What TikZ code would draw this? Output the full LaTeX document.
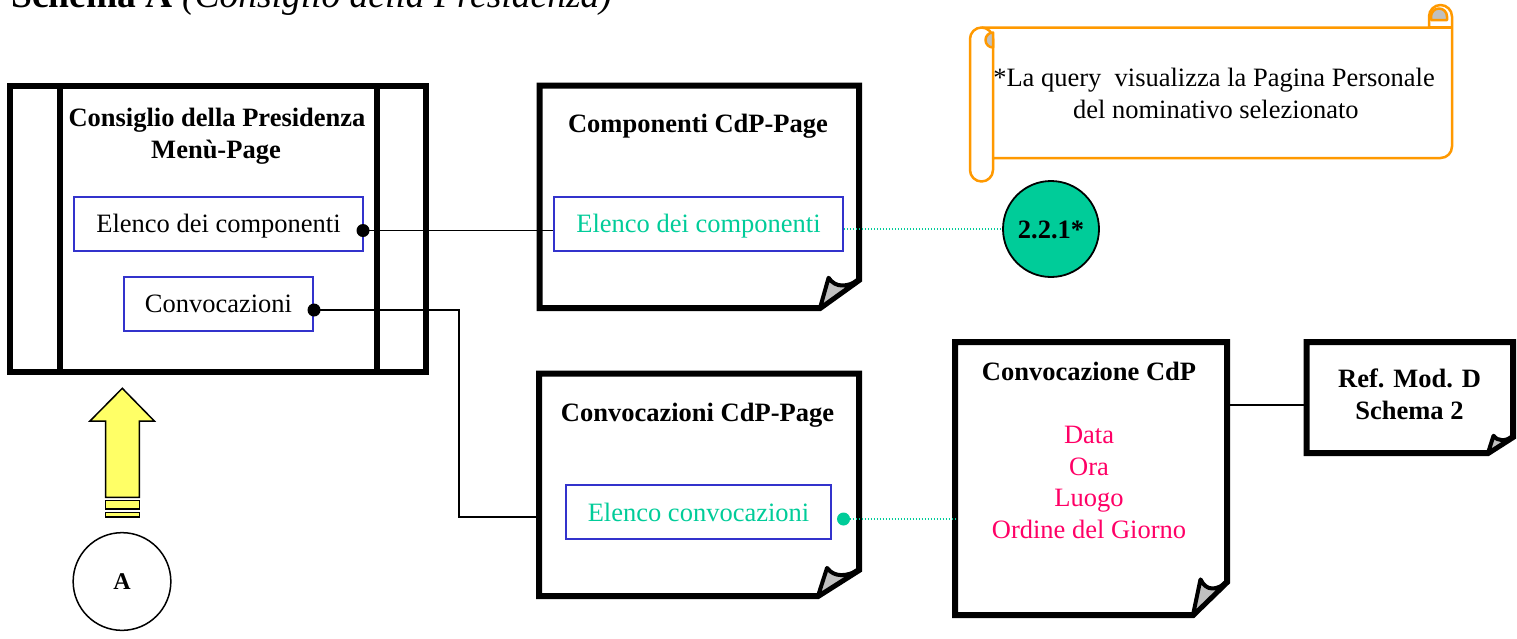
\documentclass[tikz,border=0pt]{standalone}
\usepackage{fontspec}
\setmainfont{Liberation Serif}
\usetikzlibrary{calc}
\definecolor{boxblue}{RGB}{51,51,204}
\definecolor{tealg}{RGB}{0,204,153}
\definecolor{pinkc}{RGB}{255,0,102}
\definecolor{scrollo}{RGB}{255,153,0}
\definecolor{foldgray}{RGB}{192,192,192}
\definecolor{arrowy}{RGB}{255,255,102}
\newcommand\foldpage[3]{%
  \draw[pageline] (#1.north west) -- (#1.north east) -- ([yshift=#3pt]#1.south east) -- ([xshift=-#2pt]#1.south east) -- (#1.south west) -- cycle;
  \filldraw[foldline] ([xshift=-#2pt]#1.south east) -- ([xshift={-0.78*#2pt}, yshift={1.08*#3pt}]#1.south east) .. controls ([xshift={-0.6*#2pt}, yshift={0.7*#3pt}]#1.south east) and ([xshift={-0.3*#2pt}, yshift={0.75*#3pt}]#1.south east) .. ([yshift=#3pt]#1.south east) -- cycle;
}
\begin{document}
\begin{tikzpicture}[x=1pt,y=-1pt,
  txt/.style={inner sep=0pt, anchor=base, font=\fontsize{26.5}{31.5}\selectfont},
  btxt/.style={inner sep=0pt, anchor=base, font=\fontsize{26.5}{31.5}\selectfont\bfseries},
  bluebox/.style={draw=boxblue, line width=1.8pt, inner sep=0pt, minimum height=54.3pt, text height=18pt, text depth=0pt, font=\fontsize{26.5}{31.5}\selectfont},
  pagenode/.style={inner sep=0pt, outer sep=0pt},
  pageline/.style={line width=6pt, line join=miter, fill=white},
  foldline/.style={line width=4pt, line join=round, fill=foldgray, draw=black},
  conn/.style={line width=1.8pt},
  dotg/.style={draw=tealg, line width=1.5pt, dash pattern=on 1.5pt off 1.5pt},
  jdot/.style={circle, fill=black, inner sep=0pt, minimum size=13pt},
  scrl/.style={draw=scrollo, line width=2.5pt, line join=round},
]
\useasboundingbox (0,0) rectangle (1517,638);

% title
\node[inner sep=0pt, anchor=base west, font=\fontsize{37.5}{40}\selectfont] (title) at (11,7) {\textbf{Schema A} \textit{(Consiglio della Presidenza)}};

% Consiglio della Presidenza menu page
\node[pagenode, minimum width=416pt, minimum height=286.5pt] (cons) at (218,228.75) {};
\draw[line width=6pt] (cons.north west) rectangle (cons.south east);
\draw[line width=6pt] ([xshift=50pt]cons.north west) -- ([xshift=50pt]cons.south west);
\draw[line width=6pt] ([xshift=-49.5pt]cons.north east) -- ([xshift=-49.5pt]cons.south east);
\node[btxt] (cons1) at (217,126.7) {Consiglio della Presidenza};
\node[btxt] (cons2) at (216,158) {Menù-Page};

% page boxes
\node[pagenode, minimum width=319.5pt, minimum height=222.5pt] (comp) at (699.25,196.75) {};
\foldpage{comp}{39}{28}
\node[btxt] (comp1) at (698,132.7) {Componenti CdP-Page};

\node[pagenode, minimum width=320pt, minimum height=222.3pt] (convp) at (699,484.85) {};
\foldpage{convp}{41}{26}
\node[btxt] (convp1) at (697.5,421.7) {Convocazioni CdP-Page};

\node[pagenode, minimum width=272pt, minimum height=273pt] (cdp) at (1091,478.5) {};
\foldpage{cdp}{34}{33}
\node[btxt] (cdp1) at (1089,380) {Convocazione CdP};
\node[txt, text=pinkc] (cdp2) at (1089,443.3) {Data};
\node[txt, text=pinkc] (cdp3) at (1089,475) {Ora};
\node[txt, text=pinkc] (cdp4) at (1089,506.7) {Luogo};
\node[txt, text=pinkc] (cdp5) at (1089,538.3) {Ordine del Giorno};

\node[pagenode, minimum width=206.5pt, minimum height=111pt] (ref) at (1409.75,397.5) {};
\foldpage{ref}{25}{16}
\node[btxt] (ref1) at (1409.5,387) {Ref. Mod. D};
\node[btxt] (ref2) at (1409.5,419) {Schema 2};

% blue boxes
\node[bluebox, minimum width=289pt] (elc) at (218.5,223.85) {Elenco dei componenti};
\node[bluebox, minimum width=189pt] (cvz) at (218.5,303.85) {Convocazioni};
\node[bluebox, minimum width=289pt, text=tealg] (celc) at (698.5,223.85) {Elenco dei componenti};
\node[bluebox, minimum width=265pt, text=tealg] (ecv) at (698.5,512.15) {Elenco convocazioni};

% green circle
\node[circle, draw=black, line width=1.8pt, fill=tealg, minimum size=96pt, inner sep=0pt, text height=18pt, text depth=0pt, font=\bfseries\fontsize{26.5}{30}\selectfont] (g221) at (1051,229) {2.2.1*};

% connectors
\node[jdot] (d1) at (363,230.5) {};
\node[jdot] (d2) at (314,310) {};
\draw[conn] (d1.center) -- (d1.center -| celc.west);
\coordinate (bend) at (459,517);
\coordinate (e2) at (539,517);
\draw[conn] (d2.center) -| (bend) -- (e2);
\draw[dotg] (celc.east |- g221.center) -- (g221.west);
\node[jdot, fill=tealg] (d3) at (843.5,519) {};
\draw[dotg] (d3.center) -- (d3.center -| cdp.west);
\coordinate (r3) at (1227,405);
\draw[conn] (cdp.east |- r3) -- (ref.west |- r3);

% yellow arrow
\draw[fill=arrowy, line width=1.5pt, line join=miter] (122.3,388.3) -- (154.3,421) -- (139.3,421) -- (139.3,497.3) -- (105.7,497.3) -- (105.7,421) -- (90,421) -- cycle;
\draw[fill=arrowy, line width=1.5pt] (105.7,500.7) rectangle (139.3,509);
\draw[fill=arrowy, line width=1.5pt] (105.7,512.7) rectangle (139.3,517);

% circle A
\node[circle, draw, line width=1.5pt, minimum size=97.7pt, inner sep=0pt, font=\bfseries\fontsize{24}{28}\selectfont, text height=16pt, text depth=0pt] (a) at (122,581.5) {A};

% scroll (y axis points down: angle 90 = down)
\draw[scrl, fill=white] (970,39) -- (970,170) arc[start angle=180, end angle=0, radius=11.5] -- (993,158) -- (1440.5,158) arc[start angle=90, end angle=0, radius=11.5] -- (1452,16.5) arc[start angle=0, end angle=-180, radius=11.5] -- (1429,27.5) -- (981.5,27.5) arc[start angle=-90, end angle=-180, radius=11.5] -- cycle;
\draw[scrl] (1429,27.5) -- (1452,27.5);
\draw[scrl] (981.5,27.5) arc[start angle=-90, end angle=0, radius=11.5] -- (993,158);
\filldraw[scrl, fill=foldgray] (993,32.5) arc[start angle=-90, end angle=-270, radius=7.5] -- cycle;
\filldraw[scrl, fill=foldgray] (1431,20) -- (1431,16.5) arc[start angle=180, end angle=360, radius=8] -- (1447,20) -- cycle;
\node[txt] (s1) at (1214,86) {*La query\ \ visualizza la Pagina Personale};
\node[txt] (s2) at (1215.8,118) {del nominativo selezionato};
\end{tikzpicture}
\end{document}
